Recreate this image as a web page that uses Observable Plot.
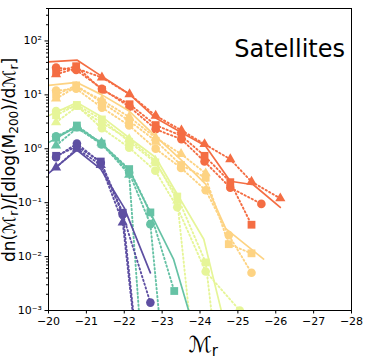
<!DOCTYPE html>
<html><head><meta charset="utf-8">
<script src="https://cdn.jsdelivr.net/npm/d3@7"></script>
<script src="https://cdn.jsdelivr.net/npm/@observablehq/plot@0.6"></script>
<style>body{margin:0;background:#fff}svg{display:block}</style>
</head><body><div id="chart"></div>
<script>
// ---- data ----
const ZERO = 1e-6; // empty bin (drawn as a plunge off the log axis)

// orange-red (highest halo mass bin)
const orangeX        = [-20.2, -20.73, -21.41, -22.14, -22.83, -23.51, -24.12, -24.8, -25.36, -25.62, -26.12];
const orangeCircle   = [32, 29, 13, 6.0, 2.3, 1.5, 0.58, 0.19, null, 0.095, null];
const orangeSquare   = [27, 34, 12.4, 6.7, 2.75, 1.74, 0.74, 0.24, 0.039, null, null];
const orangeTriangle = [24, 31, 21, 10.3, 4.1, 2.2, 1.22, 0.64, 0.245, null, 0.12];
const orangeModelX   = [-20, -20.76, -21.41, -22.13, -22.82, -23.51, -24.14, -24.8, -25.41, -26.12];
const orangeModel    = [41, 44, 22, 10.4, 3.75, 2.0, 1.14, 0.25, 0.215, 0.082];

// light orange
const yellowX        = [-20.2, -20.73, -21.41, -22.13, -22.83, -23.5, -24.15, -24.76, -25.36];
const yellowCircle   = [12, 13, 5.8, 2.7, 1.0, 0.44, 0.17, 0.025, 0.005];
const yellowSquare   = [10, 15, 7.2, 3.3, 1.4, 0.5, 0.29, 0.017, 0.0115];
const yellowTriangle = [8.5, 14, 8, 3.9, 1.6, 0.8, 0.35, null, null];
const yellowModelX   = [-20, -20.75, -21.41, -22.13, -22.83, -23.5, -24.15, -24.68, -25.68];
const yellowModel    = [15, 17, 10, 5, 1.7, 0.62, 0.22, 0.033, 0.009];

// yellow-green
const greenX         = [-20.2, -20.75, -21.41, -22.13, -22.82, -23.4, -24.15, -24.8, -25.05];
const greenCircle    = [5, 6.3, 2.4, 1.05, 0.39, 0.082, 0.0053, null, 0.001];
const greenSquare    = [4.2, 6.5, 3.5, 1.35, 0.56, 0.13, 0.0078, ZERO, null];
const greenTriangle  = [3.1, 6.0, 3.0, 1.5, 0.6, 0.11, ZERO, null, null];
const greenModelX    = [-20, -20.75, -21.41, -22.13, -22.83, -24.1, -24.7];
const greenModel     = [4.1, 7.2, 3.9, 1.6, 0.69, 0.021, 0.0004];

// teal
const tealX          = [-20.2, -20.75, -21.4, -22.13, -22.69, -23.32];
const tealCircle     = [1.7, 2.5, 1.2, 0.36, 0.040, ZERO];
const tealSquare     = [1.6, 2.7, 1.25, 0.42, 0.066, 0.0023];
const tealTriangle   = [1.15, 2.4, 1.3, 0.33, ZERO, null];
const tealModelX     = [-20, -20.75, -21.4, -22.13, -23.3, -23.7];
const tealModel      = [1.3, 2.6, 1.25, 0.4, 0.009, 0.001];

// purple (lowest halo mass bin)
const purpleX        = [-20.2, -20.75, -21.38, -21.96, -22.69];
const purpleCircle   = [0.7, 1.25, 0.55, 0.06, 0.0014];
const purpleSquare   = [0.74, 1.1, 0.58, 0.065, ZERO];
const purpleTriangle = [0.45, 1.0, 0.5, 0.043, ZERO];
const purpleModelX   = [-20, -20.75, -21.38, -22.0, -22.69];
const purpleModel    = [0.35, 0.95, 0.42, 0.08, 0.005];

const xTicks = [-20, -21, -22, -23, -24, -25, -26, -27, -28];
const yTicks = [1e-3, 1e-2, 1e-1, 1e0, 1e1, 1e2];

// ---- build ----
const colors = {orange:"#f46d43", yellow:"#fdd383", green:"#e6f598", teal:"#66c2a5", purple:"#5e4fa2"};
const groups = [
  {c:colors.orange, x:orangeX, circle:orangeCircle, square:orangeSquare, triangle:orangeTriangle, mx:orangeModelX, my:orangeModel},
  {c:colors.yellow, x:yellowX, circle:yellowCircle, square:yellowSquare, triangle:yellowTriangle, mx:yellowModelX, my:yellowModel},
  {c:colors.green,  x:greenX,  circle:greenCircle,  square:greenSquare,  triangle:greenTriangle,  mx:greenModelX,  my:greenModel},
  {c:colors.teal,   x:tealX,   circle:tealCircle,   square:tealSquare,   triangle:tealTriangle,   mx:tealModelX,   my:tealModel},
  {c:colors.purple, x:purpleX, circle:purpleCircle, square:purpleSquare, triangle:purpleTriangle, mx:purpleModelX, my:purpleModel}
];
const pts = (xs, ys) => xs.map((x, i) => ({x, y: ys[i]})).filter(d => d.y != null);

const minor = [];
for (let e = -3; e <= 2; e++) for (let k = 2; k <= 9; k++) { const v = k * Math.pow(10, e); if (v <= 400) minor.push(v); }

const supMap = {"-":"⁻","0":"⁰","1":"¹","2":"²","3":"³"};
const fmtY = d => "10" + String(Math.round(Math.log10(d))).split("").map(c => supMap[c]).join("");
const fmtX = d => String(d).replace("-", "−");

const marks = [];
for (const g of groups) {
  marks.push(Plot.line(pts(g.mx, g.my), {x:"x", y:"y", stroke:g.c, strokeWidth:1.7, clip:true}));
  for (const [key, sym, r] of [["circle","circle",4.3],["square","square",4.4],["triangle","triangle",3.8]]) {
    const d = pts(g.x, g[key]);
    marks.push(Plot.line(d, {x:"x", y:"y", stroke:g.c, strokeWidth:1.9, strokeDasharray:"1.4,2.6", clip:true}));
    marks.push(Plot.dot(d.filter(p => p.y > 1e-5), {x:"x", y:"y", symbol:sym, r, fill:g.c, stroke:"none", clip:true}));
  }
}

const chart = Plot.plot({
  width:371, height:363,
  marginLeft:48, marginRight:20, marginTop:8, marginBottom:53,
  style:{fontFamily:"DejaVu Sans", fontSize:"11px", color:"#000", background:"#fff"},
  x:{domain:[-20, -28]},
  y:{type:"log", domain:[1e-3, 400]},
  marks:[
    ...marks,
    Plot.frame({stroke:"#000", strokeWidth:1}),
    Plot.axisX(xTicks, {tickSize:3.5, tickPadding:3, tickFormat:fmtX, label:null, fontSize:11}),
    Plot.axisY(minor, {tickSize:2, tickFormat:() => "", label:null}),
    Plot.axisY(yTicks, {tickSize:3.5, tickPadding:3, tickFormat:fmtY, label:null, fontSize:11})
  ]
});

const svg = d3.select(chart);
svg.append("text").attr("x", 345).attr("y", 57).attr("text-anchor", "end")
  .attr("font-family", "DejaVu Sans").attr("font-size", 24).attr("fill", "#000").text("Satellites");
const xl = svg.append("text").attr("x", 203).attr("y", 352).attr("text-anchor", "middle")
  .attr("font-family", "DejaVu Sans").attr("font-size", 22).attr("fill", "#000");
xl.append("tspan").text("ℳ");
xl.append("tspan").attr("font-size", 15).attr("dy", 4).text("r");
const yl = svg.append("text").attr("transform", "translate(15,160) rotate(-90)").attr("text-anchor", "middle")
  .attr("font-family", "DejaVu Sans").attr("font-size", 17).attr("fill", "#000");
yl.append("tspan").text("dn(ℳ");
yl.append("tspan").attr("font-size", 12).attr("dy", 3).text("r");
yl.append("tspan").attr("dy", -3).text(")/[dlog(M");
yl.append("tspan").attr("font-size", 12).attr("dy", 3).text("200");
yl.append("tspan").attr("dy", -3).text(")/dℳ");
yl.append("tspan").attr("font-size", 12).attr("dy", 3).text("r");
yl.append("tspan").attr("dy", -3).text("]");

document.getElementById("chart").appendChild(chart);
</script></body></html>
